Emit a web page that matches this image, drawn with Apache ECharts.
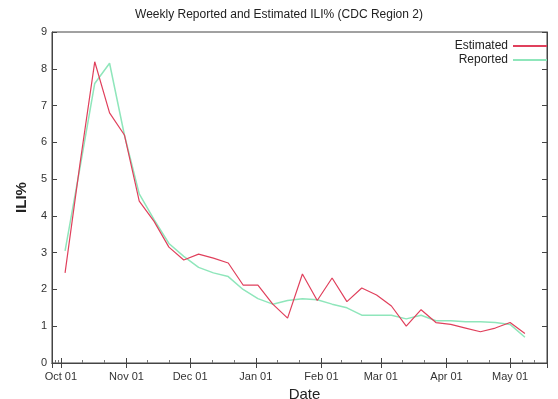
<!DOCTYPE html>
<html>
<head>
<meta charset="utf-8">
<script src="https://cdn.jsdelivr.net/npm/echarts@6/dist/echarts.min.js"></script>
<style>html,body{margin:0;padding:0;background:#fff}#c{width:558px;height:399px}</style>
</head>
<body>
<div id="c"></div>
<script>
// Week-ending dates (Saturdays)
var weeks = ['2009-10-03','2009-10-10','2009-10-17','2009-10-24','2009-10-31','2009-11-07','2009-11-14','2009-11-21',
  '2009-11-28','2009-12-05','2009-12-12','2009-12-19','2009-12-26','2010-01-02','2010-01-09','2010-01-16',
  '2010-01-23','2010-01-30','2010-02-06','2010-02-13','2010-02-20','2010-02-27','2010-03-06','2010-03-13',
  '2010-03-20','2010-03-27','2010-04-03','2010-04-10','2010-04-17','2010-04-24','2010-05-01','2010-05-08'];
var estimated = [2.45, 5.4, 8.19, 6.8, 6.2, 4.4, 3.85, 3.15,
  2.8, 2.96, 2.85, 2.72, 2.12, 2.12, 1.6, 1.22,
  2.42, 1.7, 2.31, 1.67, 2.04, 1.85, 1.55, 1.0,
  1.45, 1.1, 1.05, 0.95, 0.85, 0.95, 1.1, 0.8];
var reported = [3.05, 5.3, 7.6, 8.15, 6.2, 4.6, 3.9, 3.25,
  2.9, 2.6, 2.45, 2.35, 2.0, 1.75, 1.6, 1.7,
  1.75, 1.72, 1.6, 1.5, 1.3, 1.3, 1.3, 1.2,
  1.3, 1.15, 1.15, 1.12, 1.12, 1.1, 1.05, 0.7];
var monthNames = ['Jan','Feb','Mar','Apr','May','Jun','Jul','Aug','Sep','Oct','Nov','Dec'];
var yTicks = [0,1,2,3,4,5,6,7,8,9];

function toTime(s){ var p = s.split('-'); return new Date(+p[0], +p[1]-1, +p[2]).getTime(); }
function pairs(vals){ return weeks.map(function(d,i){ return [toTime(d), vals[i]]; }); }
function fmt(v){ var d = new Date(v); var dd = d.getDate(); return monthNames[d.getMonth()] + ' ' + (dd<10?'0':'') + dd; }

var xMin = new Date(2009, 8, 26, 20).getTime();
var xMax = new Date(2010, 4, 18, 10).getTime();
var font = 'Liberation Sans, Arial, sans-serif';
var axisCol = '#444';

var chart = echarts.init(document.getElementById('c'), null, {renderer:'canvas'});
chart.setOption({
  backgroundColor: '#fff',
  animation: false,
  title: {
    text: 'Weekly Reported and Estimated ILI% (CDC Region 2)',
    left: 'center', top: 4,
    textStyle: {fontSize: 12, fontWeight: 'normal', color: '#222', fontFamily: font}
  },
  legend: {
    data: ['Estimated','Reported'],
    orient: 'vertical', align: 'right',
    right: 6, top: 35,
    icon: 'rect',
    itemWidth: 34, itemHeight: 2, itemGap: 2,
    textStyle: {fontSize: 12, color: '#222', fontFamily: font}
  },
  grid: {left: 52, right: 11, top: 32, bottom: 36, show: true, borderColor: axisCol, borderWidth: 1,
         containLabel: false, outerBoundsMode: 'none'},
  xAxis: [{
    type: 'time', min: xMin, max: xMax,
    minInterval: 28*86400000, maxInterval: 31*86400000,
    name: 'Date', nameLocation: 'middle', nameGap: 22,
    nameTextStyle: {fontSize: 15, color: '#222', fontFamily: font, padding: [0,0,0,10]},
    axisLine: {show: true, lineStyle: {color: axisCol}},
    axisTick: {show: true, inside: true, length: 5, lineStyle: {color: axisCol}},
    minorTick: {show: true, splitNumber: 3, length: 3, lineStyle: {color: '#777'}},
    splitLine: {show: false},
    axisLabel: {formatter: fmt, fontSize: 11, color: '#333', margin: 8, fontFamily: font, hideOverlap: false}
  }, {
    type: 'time', min: xMin, max: xMax, position: 'top',
    minInterval: 28*86400000, maxInterval: 31*86400000,
    axisLine: {show: true, lineStyle: {color: axisCol}},
    axisTick: {show: true, inside: true, length: 5, lineStyle: {color: axisCol}},
    axisLabel: {show: false}, splitLine: {show: false}
  }],
  yAxis: [{
    type: 'value', min: yTicks[0], max: yTicks[yTicks.length-1], interval: 1,
    name: 'ILI%', nameLocation: 'middle', nameGap: 23, nameRotate: 90,
    nameTextStyle: {fontSize: 15, fontWeight: 'bold', color: '#222', fontFamily: font},
    axisLine: {show: true, lineStyle: {color: axisCol}},
    axisTick: {show: true, inside: true, length: 5, lineStyle: {color: axisCol}},
    splitLine: {show: false},
    axisLabel: {fontSize: 11, color: '#333', margin: 5, fontFamily: font}
  }, {
    type: 'value', min: yTicks[0], max: yTicks[yTicks.length-1], interval: 1, position: 'right',
    axisLine: {show: true, lineStyle: {color: axisCol}},
    axisTick: {show: true, inside: true, length: 5, lineStyle: {color: axisCol}},
    axisLabel: {show: false}, splitLine: {show: false}
  }],
  series: [{
    name: 'Reported', type: 'line', data: pairs(reported),
    symbol: 'none', lineStyle: {color: '#8fe6bb', width: 1.5}, itemStyle: {color: '#8fe6bb'}
  }, {
    name: 'Estimated', type: 'line', data: pairs(estimated),
    symbol: 'none', lineStyle: {color: '#e0405c', width: 1.2}, itemStyle: {color: '#e0405c'}
  }]
});
</script>
</body>
</html>
